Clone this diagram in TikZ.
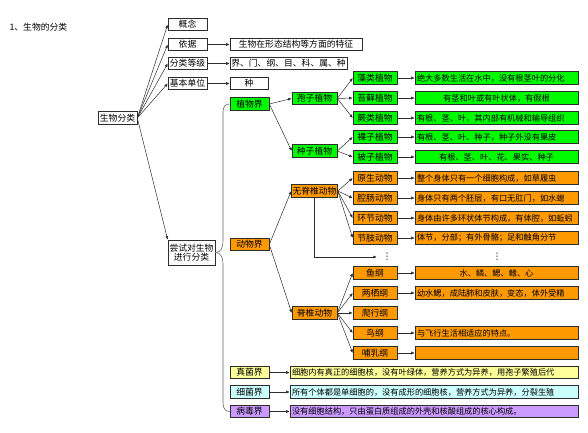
\documentclass[tikz,border=0pt]{standalone}
\usepackage{fontspec}
\setmainfont{Noto Sans CJK SC}
\newfontfamily\symfont{DejaVu Sans}
\usepackage{tikz}
\usetikzlibrary{arrows.meta, positioning}
\definecolor{plantgreen}{RGB}{0,250,0}
\definecolor{animalorange}{RGB}{255,153,0}
\definecolor{fungiyellow}{RGB}{255,255,153}
\definecolor{bacteriacyan}{RGB}{204,255,255}
\definecolor{viruspurple}{RGB}{204,153,255}
\definecolor{bordergray}{RGB}{45,45,45}
\tikzset{
  box/.style={
    draw=bordergray,
    line width=0.6pt,
    inner sep=1pt,
    align=center,
    minimum width=39pt,
    minimum height=12.5pt,
    font=\fontsize{8.8}{9.5}\selectfont
  },
  colbox/.style={box, minimum width=44pt},
  midbox/.style={box, minimum width=45pt},
  descbox/.style={box, inner sep=2pt, text width=159pt, align=left, font=\fontsize{8.2}{9}\selectfont},
  kdescbox/.style={box, inner sep=2pt, text width=284pt, align=left, font=\fontsize{8.2}{9}\selectfont},
  dotsnode/.style={inner sep=0pt, font=\symfont\fontsize{9}{9}\selectfont},
  arrow/.style={-{Latex[length=3.5pt,width=3pt]}, line width=0.5pt, draw=bordergray},
  brace/.style={draw=gray!80!black, line width=0.6pt}
}
\begin{document}
\begin{tikzpicture}[x=1pt, y=-1pt]
\useasboundingbox (0,0) rectangle (588,432);

\node[anchor=west, font=\fontsize{8.8}{9.5}\selectfont] (title) at (6,27) {1、生物的分类};

% root and first level
\node[box] (root) at (117.5,118) {生物分类};
\node[box] (gainian) at (187.5,24.5) {概念};
\node[box] (yiju) at (187.5,44.5) {依据};
\node[box] (dengji) at (187.5,63.5) {分类等级};
\node[box] (danwei) at (187.5,83.5) {基本单位};
\node[box, minimum width=47pt, minimum height=25pt] (changshi) at (191.5,252.5) {尝试对生物\\进行分类};

\node[box, minimum width=132pt] (yijudesc) at (296,44.5) {生物在形态结构等方面的特征};
\node[box, minimum width=117pt] (dengjidesc) at (288.5,63.5) {界、门、纲、目、科、属、种};
\node[box, minimum width=38pt] (zhong) at (249,83.5) {种};

\draw[arrow] (root.east) -- (gainian.west);
\draw[arrow] (root.east) -- (yiju.west);
\draw[arrow] (root.east) -- (dengji.west);
\draw[arrow] (root.east) -- (danwei.west);
\draw[arrow] (root.east) -- (changshi.north west);
\draw[arrow] (yiju) -- (yijudesc);
\draw[arrow] (dengji) -- (dengjidesc);
\draw[arrow] (danwei) -- (zhong);

% plants
\node[box, fill=plantgreen] (zhiwujie) at (249.5,104) {植物界};
\node[midbox, fill=plantgreen] (baozi) at (314.5,98.5) {孢子植物};
\node[midbox, fill=plantgreen] (zhongzi) at (314.5,151) {种子植物};
\node[colbox, fill=plantgreen] (zaolei) at (375,78) {藻类植物};
\node[colbox, fill=plantgreen] (taixian) at (375,98) {苔藓植物};
\node[colbox, fill=plantgreen] (juelei) at (375,118) {蕨类植物};
\node[colbox, fill=plantgreen] (luozi) at (375,137) {裸子植物};
\node[colbox, fill=plantgreen] (beizi) at (375,157) {被子植物};
\node[descbox, fill=plantgreen] (zaoleidesc) at (496.5,78) {绝大多数生活在水中，没有根茎叶的分化};
\node[descbox, fill=plantgreen, align=center] (taixiandesc) at (496.5,98) {有茎和叶或有叶状体，有假根};
\node[descbox, fill=plantgreen] (jueleidesc) at (496.5,118) {有根、茎、叶，其内部有机械和输导组织};
\node[descbox, fill=plantgreen] (luozidesc) at (496.5,137) {有根、茎、叶、种子，种子外没有果皮};
\node[descbox, fill=plantgreen, align=center] (beizidesc) at (496.5,157) {有根、茎、叶、花、果实、种子};

\draw[arrow] (zhiwujie.east) -- (baozi.west);
\draw[arrow] (zhiwujie.east) -- (zhongzi.west);
\draw[arrow] (baozi.east) -- (zaolei.west);
\draw[arrow] (baozi.east) -- (taixian.west);
\draw[arrow] (baozi.east) -- (juelei.west);
\draw[arrow] (zhongzi.east) -- (luozi.west);
\draw[arrow] (zhongzi.east) -- (beizi.west);
\draw[arrow] (zaolei) -- (zaoleidesc);
\draw[arrow] (taixian) -- (taixiandesc);
\draw[arrow] (juelei) -- (jueleidesc);
\draw[arrow] (luozi) -- (luozidesc);
\draw[arrow] (beizi) -- (beizidesc);

% animals
\node[box, fill=animalorange] (dongwujie) at (249.5,244.5) {动物界};
\node[midbox, fill=animalorange] (wujizhui) at (314.5,191) {无脊椎动物};
\node[colbox, fill=animalorange] (yuansheng) at (375,178) {原生动物};
\node[colbox, fill=animalorange] (qiangchang) at (375,198) {腔肠动物};
\node[colbox, fill=animalorange] (huanjie) at (375,218) {环节动物};
\node[colbox, fill=animalorange] (jiezhi) at (375,238) {节肢动物};
\node[descbox, fill=animalorange] (yuanshengdesc) at (496.5,178) {整个身体只有一个细胞构成，如草履虫};
\node[descbox, fill=animalorange] (qiangchangdesc) at (496.5,198) {身体只有两个胚层，有口无肛门，如水螅};
\node[descbox, fill=animalorange] (huanjiedesc) at (496.5,218) {身体由许多环状体节构成，有体腔，如蚯蚓};
\node[descbox, fill=animalorange] (jiezhidesc) at (496.5,238) {体节，分部；有外骨骼；足和触角分节};
\node[dotsnode, minimum width=20pt] (dotsa) at (387,257) {⋮};
\node[dotsnode] (dotsb) at (497,257) {⋮};

\node[midbox, fill=animalorange] (jizhui) at (314.5,313) {脊椎动物};
\node[colbox, fill=animalorange] (yugang) at (375,273) {鱼纲};
\node[colbox, fill=animalorange] (liangqi) at (375,293) {两栖纲};
\node[colbox, fill=animalorange] (paxing) at (375,313) {爬行纲};
\node[colbox, fill=animalorange] (niaogang) at (375,333) {鸟纲};
\node[colbox, fill=animalorange] (buru) at (375,353) {哺乳纲};
\node[descbox, fill=animalorange, align=center] (yugangdesc) at (496.5,273) {水、鳞、鳃、鳍、心};
\node[descbox, fill=animalorange] (liangqidesc) at (496.5,293) {幼水鳃，成陆肺和皮肤，变态，体外受精};
\node[descbox, fill=animalorange] (niaogangdesc) at (496.5,333) {与飞行生活相适应的特点。};
\node[descbox, fill=animalorange] (burudesc) at (496.5,353) {};

\draw[arrow] (dongwujie.east) -- (wujizhui.west);
\draw[arrow] (dongwujie.east) -- (jizhui.west);
\draw[arrow] (wujizhui.east) -- (yuansheng.west);
\draw[arrow] (wujizhui.east) -- (qiangchang.west);
\draw[arrow] (wujizhui.east) -- (huanjie.west);
\draw[arrow] (wujizhui.east) -- (jiezhi.west);
\draw[arrow] (wujizhui.south) |- (dotsa.west);
\draw[arrow] (yuansheng) -- (yuanshengdesc);
\draw[arrow] (qiangchang) -- (qiangchangdesc);
\draw[arrow] (huanjie) -- (huanjiedesc);
\draw[arrow] (jiezhi) -- (jiezhidesc);
\draw[arrow] (jizhui.east) -- (yugang.west);
\draw[arrow] (jizhui.east) -- (liangqi.west);
\draw[arrow] (jizhui.east) -- (paxing.west);
\draw[arrow] (jizhui.east) -- (niaogang.west);
\draw[arrow] (jizhui.east) -- (buru.west);
\draw[arrow] (yugang) -- (yugangdesc);
\draw[arrow] (liangqi) -- (liangqidesc);
\draw[arrow] (niaogang) -- (niaogangdesc);
\draw[arrow] (buru) -- (burudesc);

% other kingdoms
\node[box, fill=fungiyellow] (zhenjunjie) at (249.5,372.5) {真菌界};
\node[box, fill=bacteriacyan] (xijunjie) at (249.5,392) {细菌界};
\node[box, fill=viruspurple] (bingdujie) at (249.5,411.5) {病毒界};
\node[kdescbox, fill=fungiyellow] (zhenjundesc) at (434,372.5) {细胞内有真正的细胞核，没有叶绿体，营养方式为异养，用孢子繁殖后代};
\node[kdescbox, fill=bacteriacyan] (xijundesc) at (434,392) {所有个体都是单细胞的，没有成形的细胞核，营养方式为异养，分裂生殖};
\node[kdescbox, fill=viruspurple] (bingdudesc) at (434,411.5) {没有细胞结构，只由蛋白质组成的外壳和核酸组成的核心构成。};

\draw[arrow] (zhenjunjie) -- (zhenjundesc);
\draw[arrow] (xijunjie) -- (xijundesc);
\draw[arrow] (bingdujie) -- (bingdudesc);

% brace
\draw[brace] (changshi.east) .. controls (221,252.5) and (223,248) .. (223,240)
  -- (223,112) .. controls (223,106) and (226,104) .. (zhiwujie.west);
\draw[brace] (changshi.east) .. controls (221,252.5) and (223,257) .. (223,265)
  -- (223,403) .. controls (223,409) and (226,411.5) .. (bingdujie.west);

\end{tikzpicture}
\end{document}
